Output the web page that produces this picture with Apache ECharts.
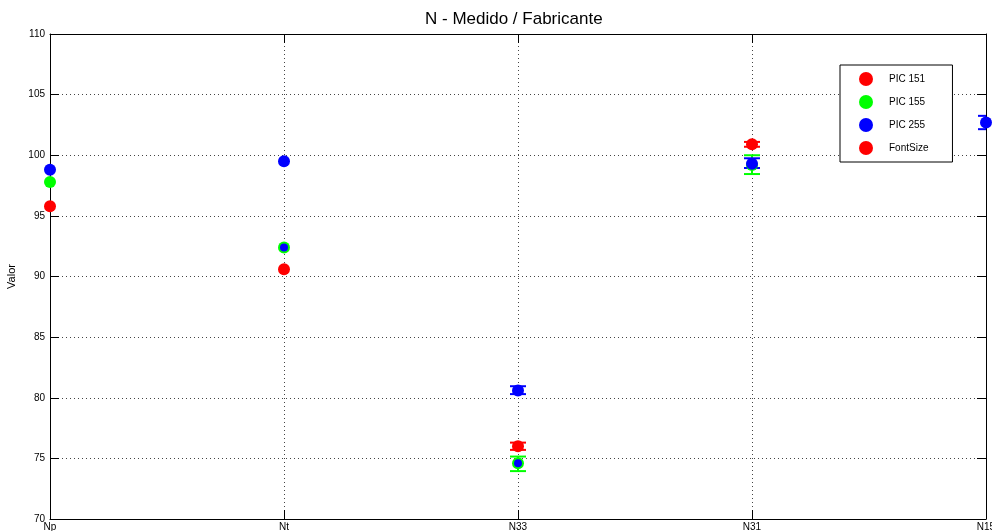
<!DOCTYPE html>
<html>
<head>
<meta charset="utf-8">
<script src="https://cdn.jsdelivr.net/npm/echarts@6/dist/echarts.min.js"></script>
<style>
  html, body { margin: 0; padding: 0; background: #fff; }
  #chart { width: 992px; height: 531px; }
</style>
</head>
<body>
<div id="chart"></div>
<script>
// Measurement points along the x axis
var categories = ['Np', 'Nt', 'N33', 'N31', 'N15'];

// Measured values per device (null = no measurement)
var pic151 = [95.8, 90.6, 76.0, 100.9, null];
var pic155 = [97.8, 92.4, 74.6, 99.2, null];
var pic255 = [98.8, 99.5, 80.6, 99.3, 102.7];
var fontSize = [null, null, null, null, null];
// Secondary PIC 255 readings plotted over the green points
var pic255Extra = [null, 92.4, 74.6, null, null];

// Error bar bounds (low / high)
var pic151Low  = [null, null, 75.7, 100.7, null];
var pic151High = [null, null, 76.3, 101.1, null];
var pic155Low  = [null, null, 73.95, 98.45, null];
var pic155High = [null, null, 75.15, 100.0, null];
var pic255Low  = [null, null, 80.3, 98.95, 102.15];
var pic255High = [null, null, 80.95, 99.75, 103.25];

// Y axis ticks
var yMin = 70, yMax = 110, yStep = 5;

var RED = '#ff0000', GREEN = '#00ff00', BLUE = '#0000ff';
var FONT = 'Liberation Sans, Arial, sans-serif';

function errData(lo, hi) {
  var out = [];
  for (var i = 0; i < lo.length; i++) {
    if (lo[i] != null && hi[i] != null) out.push([i, lo[i], hi[i]]);
  }
  return out;
}

function errRenderer(color) {
  return function (params, api) {
    var x = api.value(0);
    var lo = api.coord([x, api.value(1)]);
    var hi = api.coord([x, api.value(2)]);
    var hw = 8;
    var st = { stroke: color, lineWidth: 2 };
    return {
      type: 'group',
      children: [
        { type: 'line', shape: { x1: lo[0], y1: lo[1], x2: hi[0], y2: hi[1] }, style: st },
        { type: 'line', shape: { x1: lo[0] - hw, y1: lo[1], x2: lo[0] + hw, y2: lo[1] }, style: st },
        { type: 'line', shape: { x1: hi[0] - hw, y1: hi[1], x2: hi[0] + hw, y2: hi[1] }, style: st }
      ]
    };
  };
}

function errSeries(name, lo, hi, color) {
  return {
    name: name,
    type: 'custom',
    clip: true,
    renderItem: errRenderer(color),
    encode: { x: 0, y: [1, 2] },
    data: errData(lo, hi),
    silent: true
  };
}

function scatter(name, data, color, size) {
  return {
    name: name,
    type: 'scatter',
    data: data,
    symbol: 'circle',
    symbolSize: size,
    clip: true,
    itemStyle: { color: color, opacity: 1 }
  };
}

var gridLine = { show: true, lineStyle: { color: '#444', type: [1, 3], width: 1 } };

var chart = echarts.init(document.getElementById('chart'), null, { renderer: 'canvas' });
chart.setOption({
  backgroundColor: '#ffffff',
  animation: false,
  title: {
    text: 'N - Medido / Fabricante',
    left: 420,
    top: 6,
    textStyle: { fontFamily: FONT, fontSize: 17, fontWeight: 'normal', color: '#000' }
  },
  legend: {
    orient: 'vertical',
    left: 840,
    top: 65,
    data: ['PIC 151', 'PIC 155', 'PIC 255', 'FontSize'],
    icon: 'circle',
    itemWidth: 36,
    itemHeight: 14,
    itemGap: 9,
    padding: [7, 24, 7, 19],
    borderColor: '#000',
    borderWidth: 1,
    backgroundColor: '#fff',
    selectedMode: false,
    textStyle: { fontFamily: FONT, fontSize: 10, color: '#000' }
  },
  grid: { left: 50, right: 6, top: 34, bottom: 12, containLabel: false, outerBoundsMode: 'none' },
  xAxis: [
    {
      type: 'category',
      data: categories,
      boundaryGap: false,
      position: 'bottom',
      axisLine: { lineStyle: { color: '#000', width: 1 } },
      axisTick: { inside: true, length: 9, lineStyle: { color: '#000' } },
      axisLabel: { fontFamily: FONT, fontSize: 10, color: '#000', margin: 3 },
      splitLine: gridLine
    },
    {
      type: 'category',
      data: categories,
      boundaryGap: false,
      position: 'top',
      axisLine: { lineStyle: { color: '#000', width: 1 } },
      axisTick: { inside: true, length: 9, lineStyle: { color: '#000' } },
      axisLabel: { show: false },
      splitLine: { show: false }
    }
  ],
  yAxis: [
    {
      type: 'value',
      min: yMin, max: yMax, interval: yStep,
      position: 'left',
      name: 'Valor',
      nameLocation: 'middle',
      nameGap: 25,
      nameTextStyle: { fontFamily: FONT, fontSize: 11, color: '#000' },
      axisLine: { show: true, lineStyle: { color: '#000', width: 1 } },
      axisTick: { show: true, inside: true, length: 9, lineStyle: { color: '#000' } },
      axisLabel: { fontFamily: FONT, fontSize: 10, color: '#000', margin: 5 },
      splitLine: gridLine
    },
    {
      type: 'value',
      min: yMin, max: yMax, interval: yStep,
      position: 'right',
      axisLine: { show: true, lineStyle: { color: '#000', width: 1 } },
      axisTick: { show: true, inside: true, length: 9, lineStyle: { color: '#000' } },
      axisLabel: { show: false },
      splitLine: { show: false }
    }
  ],
  series: [
    errSeries('PIC 151 err', pic151Low, pic151High, RED),
    scatter('PIC 151', pic151, RED, 12),
    errSeries('PIC 155 err', pic155Low, pic155High, GREEN),
    scatter('PIC 155', pic155, GREEN, 12),
    errSeries('PIC 255 err', pic255Low, pic255High, BLUE),
    scatter('PIC 255', pic255, BLUE, 12),
    scatter('FontSize', fontSize, RED, 12),
    scatter('PIC 255 extra', pic255Extra, BLUE, 8)
  ]
});
</script>
</body>
</html>
